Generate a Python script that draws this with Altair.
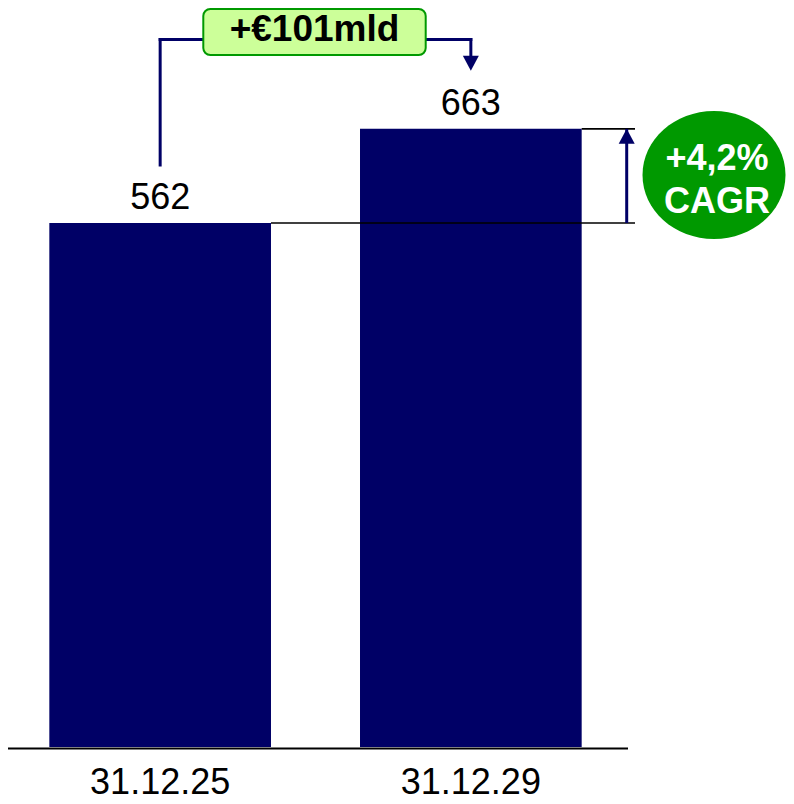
import altair as alt
import pandas as pd

# ---- data ----
categories = ["31.12.25", "31.12.29"]
values = [562, 663]
delta_label = ["+€101mld"]
cagr_lines = ["+4,2%", "CAGR"]

NAVY = "#000066"
GREEN = "#009900"
LIGHT_GREEN = "#ccff99"
FONT = "Liberation Sans"

df = pd.DataFrame({"date": categories, "value": values})
one = pd.DataFrame({"k": [0]})
delta_df = pd.DataFrame({"label": delta_label})
first = df.iloc[[0]]
second = df.iloc[[1]]

xscale = alt.Scale(domain=categories, paddingInner=0.2865, paddingOuter=0.133)
yscale = alt.Scale(domain=[0, 792.6], nice=False, zero=True)

x = alt.X(
    "date:N", scale=xscale, sort=categories, title=None,
    axis=alt.Axis(domain=False, ticks=False, tickSize=0, grid=False, labelAngle=0,
                  labelFontSize=36, labelFont=FONT, labelColor="#000000",
                  labelPadding=46, labelBaseline="alphabetic"),
)
y = alt.Y("value:Q", scale=yscale, axis=None)

bars = alt.Chart(df).mark_bar(color=NAVY).encode(x=x, y=y)

value_labels = alt.Chart(df).mark_text(
    dy=-14, baseline="alphabetic", fontSize=36, font=FONT, color="#000000"
).encode(x=x, y=y, text="value:Q")

baseline = alt.Chart(one).mark_rule(color="#000000", strokeWidth=2).encode(
    x=alt.value(-4), x2=alt.value(620), y=alt.value(740.5)
)

# horizontal reference lines from each bar's right edge
ref_lines = alt.Chart(df).mark_rule(color="#000000", strokeWidth=1.6).encode(
    x=alt.X("date:N", scale=xscale, sort=categories, bandPosition=1),
    x2=alt.value(627),
    y=y,
)

# vertical CAGR arrow
cagr_shaft = alt.Chart(one).mark_rule(color=NAVY, strokeWidth=3).encode(
    x=alt.value(618.7), y=alt.datum(values[0]), y2=alt.datum(values[1])
)
cagr_head = alt.Chart(one).mark_point(
    shape="M 0 0 L 1 1.875 L -1 1.875 Z", filled=True, size=256,
    color=NAVY, opacity=1, strokeWidth=0,
).encode(x=alt.value(618.7), y=alt.datum(values[1]))

# bracket from first bar to second bar
left_vert = alt.Chart(first).mark_rule(color=NAVY, strokeWidth=3, strokeCap="square").encode(
    x=x, y=alt.value(31.5), y2=alt.value(157)
)
left_horiz = alt.Chart(first).mark_rule(color=NAVY, strokeWidth=3, strokeCap="square").encode(
    x=x, x2=alt.value(196), y=alt.value(31.5)
)
right_horiz = alt.Chart(second).mark_rule(color=NAVY, strokeWidth=3, strokeCap="square").encode(
    x=x, x2=alt.value(417), y=alt.value(31.5)
)
right_vert = alt.Chart(second).mark_rule(color=NAVY, strokeWidth=3, strokeCap="square").encode(
    x=x, y=alt.value(31.5), y2=alt.value(56)
)
right_head = alt.Chart(second).mark_point(
    shape="M 0 0 L 1 -1.875 L -1 -1.875 Z", filled=True, size=256,
    color=NAVY, opacity=1, strokeWidth=0,
).encode(x=x, y=alt.value(62.7))

box = alt.Chart(one).mark_rect(
    cornerRadius=7, fill=LIGHT_GREEN, stroke=GREEN, strokeWidth=2
).encode(x=alt.value(195.3), x2=alt.value(417.7), y=alt.value(1), y2=alt.value(47))

box_text = alt.Chart(delta_df).mark_text(
    fontSize=37, fontWeight="bold", font=FONT, color="#000000", baseline="alphabetic"
).encode(x=alt.value(306.5), y=alt.value(32.7), text="label:N")

ellipse = alt.Chart(one).mark_point(
    shape="M -1 0 A 1 0.895 0 1 1 1 0 A 1 0.895 0 1 1 -1 0 Z",
    filled=True, size=143 * 143, color=GREEN, opacity=1, strokeWidth=0,
).encode(x=alt.value(706), y=alt.value(167))

cagr_text = alt.Chart(one).mark_text(
    fontSize=36, fontWeight="bold", font=FONT, color="#ffffff",
    baseline="alphabetic", lineHeight=43.3,
).encode(x=alt.value(709), y=alt.value(161.7), text=alt.value(cagr_lines))

chart = alt.layer(
    bars, ref_lines, baseline, value_labels, cagr_shaft, cagr_head,
    left_vert, left_horiz, right_horiz, right_vert, right_head,
    box, box_text, ellipse, cagr_text,
).properties(
    width=615, height=739,
    autosize=alt.AutoSizeParams(type="none"),
    padding={"left": 0, "top": 0, "right": 163, "bottom": 47},
).configure_view(stroke=None)

chart.save("out.html", embed_options={"renderer": "svg", "actions": False})
